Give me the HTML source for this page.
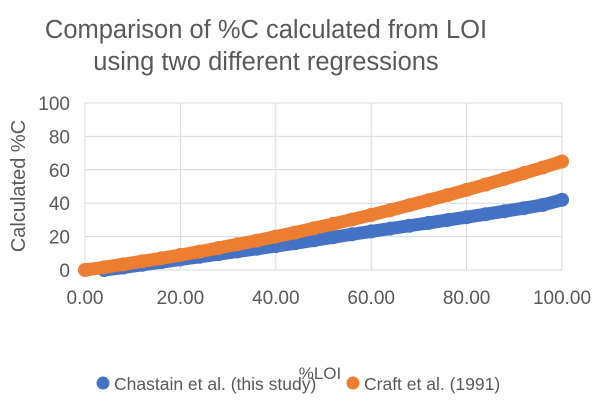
<!DOCTYPE html>
<html><head><meta charset="utf-8"><style>
body{margin:0;background:#fff;}
svg{display:block;font-family:"Liberation Sans",sans-serif;}
</style></head><body>
<svg id="chart" width="600" height="403">
<text x="266" y="38" text-anchor="middle" font-size="25.5" fill="#595959">Comparison of %C calculated from LOI</text>
<text x="266" y="70" text-anchor="middle" font-size="25.5" fill="#595959">using two different regressions</text>
<text transform="translate(25,186) rotate(-90)" text-anchor="middle" font-size="20" fill="#595959">Calculated %C</text>
<text x="320" y="379" text-anchor="middle" font-size="17" fill="#595959">%LOI</text>
<g id="grid"></g><g id="series"></g>
<g>
<circle cx="103" cy="383" r="6.5" fill="#4472C4"/>
<text x="114" y="390" font-size="17.5" fill="#595959">Chastain et al. (this study)</text>
<circle cx="353" cy="383" r="6.5" fill="#ED7D31"/>
<text x="364" y="390" font-size="17.5" fill="#595959">Craft et al. (1991)</text>
</g>
</svg>
<script>
const xTicks=[0,20,40,60,80,100];
const xTickLabels=["0.00","20.00","40.00","60.00","80.00","100.00"];
const yTicks=[0,20,40,60,80,100];
const yTickLabels=["0","20","40","60","80","100"];
const chastainX=[4,8,12,16,20,24,28,32,36,40,44,48,52,56,60,64,68,72,76,80,84,88,92,96,100];
const chastainY=[0,1.5,3.1,4.7,6.3,7.9,9.5,11.1,12.7,14.3,16,17.8,19.6,21.4,23.1,24.8,26.5,28.2,29.9,31.6,33.4,35.2,37,39,42];
const craftX=[0,4,8,12,16,20,24,28,32,36,40,44,48,52,56,60,64,68,72,76,80,84,88,92,96,100];
const craftY=[0,1.6,3.4,5.2,7,9,11,13.2,15.4,17.6,20,22.4,25,27.6,30.2,33,35.8,38.8,41.8,44.8,48,51.2,54.6,58,61.4,65];
const NS="http://www.w3.org/2000/svg";
const L=85,R=562,T=103,B=270;
const sx=v=>L+(v-0)/(100-0)*(R-L);
const sy=v=>B-(v-0)/(100-0)*(B-T);
function mk(t,a,p){const e=document.createElementNS(NS,t);for(const k in a)e.setAttribute(k,a[k]);p.appendChild(e);return e;}
const grid=document.getElementById('grid');
xTicks.forEach((v,i)=>{
 const l=mk('line',{x1:sx(v),x2:sx(v),y1:T,y2:B,stroke:'#d9d9d9','stroke-width':1},grid);
 
 
 const t=mk('text',{x:sx(v),y:B+34,'text-anchor':'middle','font-size':19,fill:'#595959'},grid);
 t.textContent=xTickLabels[i];
 
 
});
yTicks.forEach((v,i)=>{
 const l=mk('line',{x1:L,x2:R,y1:sy(v),y2:sy(v),stroke:'#d9d9d9','stroke-width':1},grid);
 
 
 const t=mk('text',{x:L-15,y:sy(v)+7,'text-anchor':'end','font-size':19,fill:'#595959'},grid);
 t.textContent=yTickLabels[i];
 
 
});
const ser=document.getElementById('series');
function draw(xs,ys,color,name){
 const g=mk('g',{},ser);
 
 
 const pts=xs.map((x,i)=>sx(x)+','+sy(ys[i])).join(' ');
 mk('polyline',{points:pts,fill:'none',stroke:color,'stroke-width':13,'stroke-linecap':'round','stroke-linejoin':'round'},g);
 xs.forEach((x,i)=>{
  const c=mk('circle',{cx:sx(x),cy:sy(ys[i]),r:7,fill:color},g);
  
  
 });
}
draw(chastainX,chastainY,'#4472C4','series-chastain');
draw(craftX,craftY,'#ED7D31','series-craft');
</script>
</body></html>
